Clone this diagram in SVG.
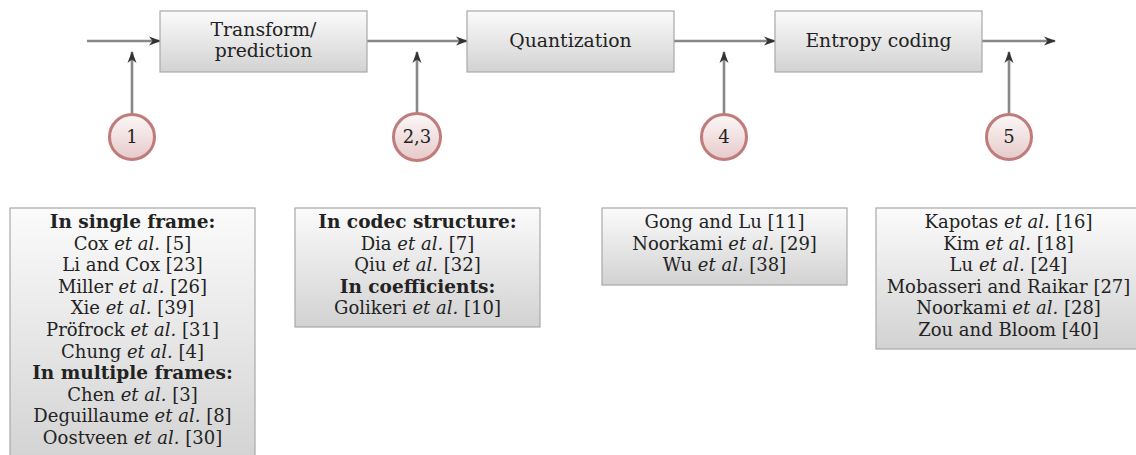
<svg xmlns="http://www.w3.org/2000/svg" width="1136" height="455" viewBox="0 0 1136 455">
<defs>
<linearGradient id="gBox" x1="0" y1="0" x2="0" y2="1">
<stop offset="0" stop-color="#fbfbfb"/>
<stop offset="1" stop-color="#d2d2d2"/>
</linearGradient>
<linearGradient id="gCirc" x1="0" y1="0" x2="0" y2="1">
<stop offset="0" stop-color="#fcf8f8"/>
<stop offset="1" stop-color="#e6c9c9"/>
</linearGradient>
<marker id="arr" viewBox="0 0 12 10" refX="11" refY="5" markerWidth="12" markerHeight="10" markerUnits="userSpaceOnUse" orient="auto">
<path d="M0,0.5 L12,5 L0,9.5 L3.5,5 Z" fill="#333"/>
</marker>
<style>
.box{fill:url(#gBox);stroke:#a8a8a8;stroke-width:1.2}
.circ{fill:url(#gCirc);stroke:#c07b7b;stroke-width:3}
.conn{stroke:#888;stroke-width:2.6;fill:none;marker-end:url(#arr)}
text{font-family:"DejaVu Serif","Liberation Serif",serif;font-size:18px;fill:#222;text-anchor:middle}
.t{font-size:18.8px}
.b{font-weight:bold;font-size:18.5px}
.i{font-style:italic}
</style>
</defs>
<g id="connectors">
<line class="conn" x1="87" y1="41" x2="160" y2="41"/>
<line class="conn" x1="367" y1="41" x2="467" y2="41"/>
<line class="conn" x1="674" y1="41" x2="775" y2="41"/>
<line class="conn" x1="982" y1="41" x2="1055" y2="41"/>
<line class="conn" x1="132" y1="114" x2="132" y2="52"/>
<line class="conn" x1="417" y1="113" x2="417" y2="52"/>
<line class="conn" x1="724" y1="114" x2="724" y2="52"/>
<line class="conn" x1="1009" y1="114" x2="1009" y2="52"/>
</g>
<g id="transform">
<rect class="box" x="160" y="11" width="207" height="61"/>
<text class="t" x="263.5" y="36">Transform/</text>
<text class="t" x="263.5" y="57">prediction</text>
</g>
<g id="quantization">
<rect class="box" x="467" y="11" width="207" height="61"/>
<text class="t" x="570.5" y="47">Quantization</text>
</g>
<g id="entropy">
<rect class="box" x="775" y="11" width="207" height="61"/>
<text class="t" x="878.5" y="47">Entropy coding</text>
</g>
<g id="c1">
<circle class="circ" cx="132" cy="137" r="22.5"/>
<text x="132" y="143">1</text>
</g>
<g id="c23">
<circle class="circ" cx="417" cy="137" r="23.5"/>
<text x="417" y="143">2,3</text>
</g>
<g id="c4">
<circle class="circ" cx="724" cy="137" r="22.5"/>
<text x="724" y="143">4</text>
</g>
<g id="c5">
<circle class="circ" cx="1009" cy="137" r="22.5"/>
<text x="1009" y="143">5</text>
</g>
<g id="refs1">
<rect class="box" x="10" y="208" width="245" height="260"/>
<text class="b" x="132.5" y="228">In single frame:</text>
<text x="132.5" y="249.6">Cox <tspan class="i">et al.</tspan> [5]</text>
<text x="132.5" y="271.2">Li and Cox [23]</text>
<text x="132.5" y="292.8">Miller <tspan class="i">et al.</tspan> [26]</text>
<text x="132.5" y="314.4">Xie <tspan class="i">et al.</tspan> [39]</text>
<text x="132.5" y="336">Pröfrock <tspan class="i">et al.</tspan> [31]</text>
<text x="132.5" y="357.6">Chung <tspan class="i">et al.</tspan> [4]</text>
<text class="b" x="132.5" y="379.2">In multiple frames:</text>
<text x="132.5" y="400.8">Chen <tspan class="i">et al.</tspan> [3]</text>
<text x="132.5" y="422.4">Deguillaume <tspan class="i">et al.</tspan> [8]</text>
<text x="132.5" y="444">Oostveen <tspan class="i">et al.</tspan> [30]</text>
</g>
<g id="refs23">
<rect class="box" x="295" y="208" width="245" height="119"/>
<text class="b" x="417.5" y="228">In codec structure:</text>
<text x="417.5" y="249.6">Dia <tspan class="i">et al.</tspan> [7]</text>
<text x="417.5" y="271.2">Qiu <tspan class="i">et al.</tspan> [32]</text>
<text class="b" x="417.5" y="292.8">In coefficients:</text>
<text x="417.5" y="314.4">Golikeri <tspan class="i">et al.</tspan> [10]</text>
</g>
<g id="refs4">
<rect class="box" x="602" y="208" width="245" height="77"/>
<text x="724.5" y="228">Gong and Lu [11]</text>
<text x="724.5" y="249.6">Noorkami <tspan class="i">et al.</tspan> [29]</text>
<text x="724.5" y="271.2">Wu <tspan class="i">et al.</tspan> [38]</text>
</g>
<g id="refs5">
<rect class="box" x="876" y="208" width="265" height="141"/>
<text x="1008.5" y="228">Kapotas <tspan class="i">et al.</tspan> [16]</text>
<text x="1008.5" y="249.6">Kim <tspan class="i">et al.</tspan> [18]</text>
<text x="1008.5" y="271.2">Lu <tspan class="i">et al.</tspan> [24]</text>
<text x="1008.5" y="292.8">Mobasseri and Raikar [27]</text>
<text x="1008.5" y="314.4">Noorkami <tspan class="i">et al.</tspan> [28]</text>
<text x="1008.5" y="336">Zou and Bloom [40]</text>
</g>
</svg>
